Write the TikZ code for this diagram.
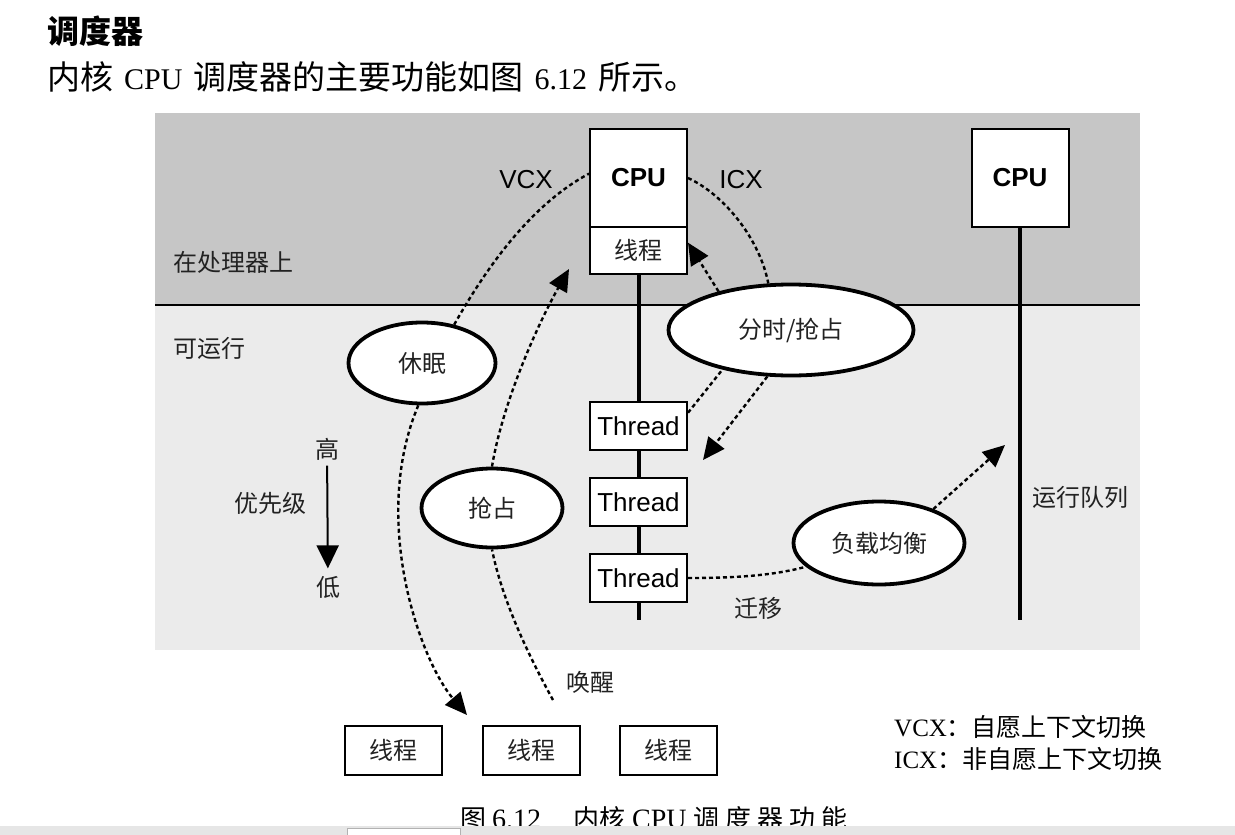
\documentclass[tikz,border=0pt]{standalone}
\usepackage{fontspec}
\setmainfont{Liberation Serif}
\setsansfont{Liberation Sans}
\newfontfamily\cjk{Noto Sans CJK SC}
\usetikzlibrary{arrows.meta,shapes.geometric,calc}
\definecolor{bandtop}{HTML}{C6C6C6}
\definecolor{bandlow}{HTML}{EBEBEB}
\definecolor{ink}{HTML}{222222}
\definecolor{barcol}{HTML}{E6E6E6}
\begin{document}
\begin{tikzpicture}[x=1pt,y=-1pt,
  box/.style={draw=black,line width=2pt,fill=white,inner sep=0pt,minimum width=97pt},
  oval/.style={ellipse,draw=black,line width=3.8pt,fill=white,inner sep=0pt},
  cjklab/.style={font=\fontsize{24}{28}\selectfont\cjk,text=ink},
  sanslab/.style={font=\fontsize{26}{30}\selectfont\sffamily},
  dashl/.style={line width=2.4pt,dash pattern=on 4pt off 3pt},
  head/.style={-{Triangle[length=22pt,width=20pt]}},
  vline/.style={line width=4pt},
]
\useasboundingbox (0,0) rectangle (1235,835);
\fill[white] (0,0) rectangle (1235,835);

% bands
\fill[bandtop] (155,113) rectangle (1140,305);
\fill[bandlow] (155,305) rectangle (1140,650);
\draw[line width=2pt] (155,305) -- (1140,305);

% heading
\node[anchor=west,inner sep=0pt,font=\fontsize{32}{36}\selectfont\cjk\bfseries] (title) at (47,31) {调度器};
\node[anchor=west,inner sep=0pt,font=\fontsize{33}{36}\selectfont] (sub) at (47,77)
  {{\cjk 内核}\hspace{11pt}{\fontsize{30}{34}\selectfont CPU}\hspace{11pt}{\cjk 调度器的主要功能如图}\hspace{11pt}{\fontsize{30}{34}\selectfont 6.12}\hspace{11pt}{\cjk 所示。}};

% CPU columns
\node[box,minimum height=98pt,font=\fontsize{26}{30}\selectfont\sffamily\bfseries] (cpu1) at (638.5,178) {CPU};
\node[box,minimum height=47pt,cjklab] (thr0) at (638.5,250.5) {线程};
\node[box,minimum height=48pt,sanslab] (th1) at (638.5,426) {Thread};
\node[box,minimum height=48pt,sanslab] (th2) at (638.5,502) {Thread};
\node[box,minimum height=48pt,sanslab] (th3) at (638.5,578) {Thread};
\node[box,minimum height=98pt,font=\fontsize{26}{30}\selectfont\sffamily\bfseries] (cpu2) at (1020,178) {CPU};
\coordinate (q1end) at (638.5,620);
\coordinate (q2end) at (1020,620);
\draw[vline] (thr0.south) -- (th1.north);
\draw[vline] (th1.south) -- (th2.north);
\draw[vline] (th2.south) -- (th3.north);
\draw[vline] (th3.south) -- (q1end);
\draw[vline] (cpu2.south) -- (q2end);

% labels
\node[cjklab,anchor=west] (onproc) at (170,262) {在处理器上};
\node[cjklab,anchor=west] (runnable) at (170,348) {可运行};
\node[cjklab] (gao) at (327,449) {高};
\node[cjklab] (prio) at (270,503) {优先级};
\node[cjklab] (di) at (328,587) {低};
\node[cjklab,anchor=west] (rq) at (1029,497) {运行队列};
\node[cjklab] (mig) at (758,608) {迁移};
\node[cjklab,anchor=west] (wake) at (563,682) {唤醒};
\node[sanslab] (vcx) at (526,180) {VCX};
\node[sanslab] (icx) at (741,180) {ICX};

% ovals
\node[oval,minimum width=147pt,minimum height=81pt,cjklab] (sleep) at (422,363) {休眠};
\node[oval,minimum width=245pt,minimum height=91pt,cjklab] (tshare) at (791,330) {分时/抢占};
\node[oval,minimum width=141pt,minimum height=79pt,cjklab] (preempt) at (492,508) {抢占};
\node[oval,minimum width=171pt,minimum height=83pt,cjklab] (lb) at (879,543) {负载均衡};

% priority arrow
\draw[line width=2pt,-{Triangle[length=23pt,width=22pt]},shorten <=2pt,shorten >=4pt] (gao) -- (di);

% free ends
\coordinate (wakeS) at (553,700);
\coordinate (wakeTip) at (569,269);
\coordinate (sleepTip) at (467,715);
\coordinate (tsTip) at (703,460);
\coordinate (lbTip) at (1005,445);

% dashed connectors
\draw[dashl] (sleep.50) .. controls (485,270) and (530,205) .. (cpu1.175);
\draw[dashl] (wakeS) .. controls (520,640) and (500,590) .. (preempt.south);
\draw[dashl,head] (preempt.north) .. controls (503,400) and (540,320) .. (wakeTip);
\draw[dashl,head] (sleep.265) .. controls (370,520) and (420,660) .. (sleepTip);
\draw[dashl] (cpu1.east) .. controls (725,195) and (760,240) .. (tshare.116);
\draw[dashl,head] (tshare.152) -- (thr0.9);
\draw[dashl] (th1.15) -- (tshare.210);
\draw[dashl,head] (tshare.243) -- (tsTip);
\draw[dashl] (th3.east) .. controls (740,578) and (775,575) .. (lb.198);
\draw[dashl,head] (lb.32) -- (lbTip);

% bottom thread boxes
\node[box,minimum height=49pt,cjklab] (b1) at (393.5,750.5) {线程};
\node[box,minimum height=49pt,cjklab] (b2) at (531.5,750.5) {线程};
\node[box,minimum height=49pt,cjklab] (b3) at (668.5,750.5) {线程};

% legend
\node[anchor=west,inner sep=0pt,font=\fontsize{25}{30}\selectfont] (leg1) at (894,727) {VCX{\cjk ：自愿上下文切换}};
\node[anchor=west,inner sep=0pt,font=\fontsize{25}{30}\selectfont] (leg2) at (894,759) {ICX{\cjk ：非自愿上下文切换}};

% caption
\node[anchor=west,inner sep=0pt,font=\fontsize{26}{30}\selectfont] (cap) at (460,819)
  {{\cjk 图}\hspace{6pt}{\fontsize{28}{30}\selectfont 6.12}\hspace{32pt}{\cjk 内核}\hspace{7pt}{\fontsize{28}{30}\selectfont CPU}\hspace{7pt}{\cjk 调\hspace{6pt}度\hspace{6pt}器\hspace{6pt}功\hspace{6pt}能}};

% bottom toolbar strip
\fill[barcol] (0,826) rectangle (1235,835);
\filldraw[fill=white,draw=gray!60,line width=0.8pt] (347,828) rectangle (460,836);
\end{tikzpicture}
\end{document}
